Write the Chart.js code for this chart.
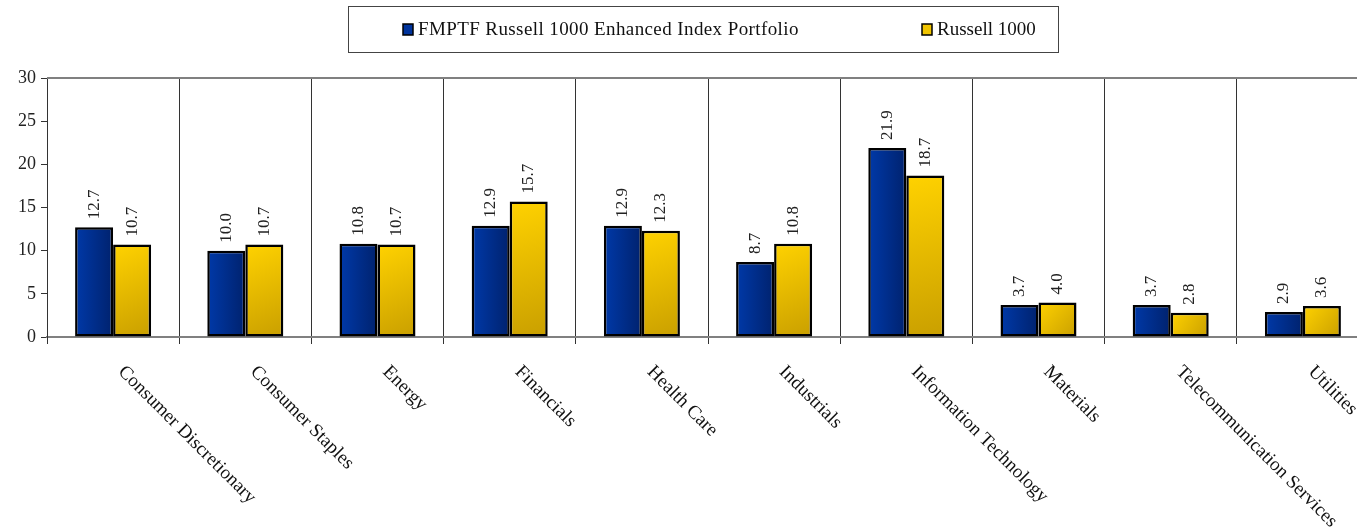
<!DOCTYPE html>
<html>
<head>
<meta charset="utf-8">
<script src="https://cdn.jsdelivr.net/npm/chart.js@4/dist/chart.umd.min.js"></script>
<style>
  html, body { margin: 0; padding: 0; background: #fff; overflow: hidden; width: 1357px; height: 527px; }
  canvas { display: block; }
</style>
</head>
<body>
<canvas id="c" width="1380" height="527"></canvas>
<script>
const categories = ["Consumer Discretionary", "Consumer Staples", "Energy", "Financials", "Health Care", "Industrials", "Information Technology", "Materials", "Telecommunication Services", "Utilities"];
const seriesNames = ["FMPTF Russell 1000 Enhanced Index Portfolio", "Russell 1000"];
const portfolioValues = [12.7, 10.0, 10.8, 12.9, 12.9, 8.7, 21.9, 3.7, 3.7, 2.9];
const russellValues = [10.7, 10.7, 10.7, 15.7, 12.3, 10.8, 18.7, 4.0, 2.8, 3.6];
const yTicks = [0, 5, 10, 15, 20, 25, 30];

const SERIF = '"Liberation Serif", "Times New Roman", serif';
const CAT_PCT = 0.575;

function barGradient(ctx, dsIndex, stops, diagonal) {
  const chart = ctx.chart;
  if (!chart.chartArea || !chart.scales.x || !chart.scales.y || ctx.type !== 'data') return stops[0];
  const xs = chart.scales.x, ys = chart.scales.y;
  const cx = xs.getPixelForValue(ctx.dataIndex);
  const catW = xs.width / categories.length;
  const bw = catW * CAT_PCT / 2;
  const left = dsIndex === 0 ? cx - bw : cx;
  const right = left + bw;
  const v = ctx.raw;
  const top = ys.getPixelForValue(v);
  const bottom = ys.getPixelForValue(0);
  const g = chart.ctx.createLinearGradient(left, top, right, diagonal ? bottom : top);
  g.addColorStop(0, stops[0]);
  g.addColorStop(1, stops[1]);
  return g;
}

const framePlugin = {
  id: 'frame',
  afterDraw(chart) {
    const { ctx, chartArea } = chart;
    ctx.save();
    ctx.strokeStyle = '#808080';
    ctx.lineWidth = 2;
    ctx.beginPath();
    ctx.moveTo(chartArea.left, chartArea.top);
    ctx.lineTo(chartArea.right, chartArea.top);
    ctx.stroke();
    ctx.restore();
  }
};

const valueLabelPlugin = {
  id: 'valueLabels',
  afterDatasetsDraw(chart) {
    const ctx = chart.ctx;
    ctx.save();
    ctx.font = '17px ' + SERIF;
    ctx.fillStyle = '#222';
    ctx.textAlign = 'left';
    ctx.textBaseline = 'middle';
    chart.data.datasets.forEach((ds, di) => {
      const meta = chart.getDatasetMeta(di);
      meta.data.forEach((el, i) => {
        ctx.save();
        ctx.translate(el.x, el.y - 8);
        ctx.rotate(-Math.PI / 2);
        ctx.fillText(ds.data[i].toFixed(1), 0, 0);
        ctx.restore();
      });
    });
    ctx.restore();
  }
};

const categoryLabelPlugin = {
  id: 'catLabels',
  afterDraw(chart) {
    const ctx = chart.ctx;
    const xs = chart.scales.x;
    ctx.save();
    ctx.font = '19px ' + SERIF;
    ctx.fillStyle = '#111';
    ctx.textAlign = 'left';
    ctx.textBaseline = 'middle';
    categories.forEach((lab, i) => {
      const x = xs.getPixelForValue(i) + 8;
      const y = chart.chartArea.bottom + 32;
      ctx.save();
      ctx.translate(x, y);
      ctx.rotate(Math.PI / 4);
      ctx.fillText(lab, 0, 0);
      ctx.restore();
    });
    ctx.restore();
  }
};

const legendPlugin = {
  id: 'boxLegend',
  afterDraw(chart) {
    const ctx = chart.ctx;
    ctx.save();
    ctx.strokeStyle = '#444';
    ctx.lineWidth = 1;
    ctx.strokeRect(348.5, 6.5, 710, 46);
    ctx.font = '19px ' + SERIF;
    ctx.textAlign = 'left';
    ctx.textBaseline = 'middle';
    const items = [
      { x: 403, color: '#00339c', label: seriesNames[0], spacing: '0.4px' },
      { x: 922, color: '#f0c400', label: seriesNames[1], spacing: '0px' }
    ];
    items.forEach(it => {
      ctx.fillStyle = it.color;
      ctx.fillRect(it.x, 24, 10, 11);
      ctx.strokeStyle = '#000';
      ctx.lineWidth = 1.5;
      ctx.strokeRect(it.x, 24, 10, 11);
      ctx.fillStyle = '#111';
      if ('letterSpacing' in ctx) ctx.letterSpacing = it.spacing;
      ctx.fillText(it.label, it.x + 15, 30);
    });
    ctx.restore();
  }
};

new Chart(document.getElementById('c'), {
  type: 'bar',
  data: {
    labels: categories,
    datasets: [
      {
        label: seriesNames[0],
        data: portfolioValues,
        backgroundColor: (ctx) => barGradient(ctx, 0, ['#0039a8', '#00226e'], false),
        borderColor: '#000',
        borderWidth: 2.5,
        borderSkipped: false,
        barPercentage: 1.0,
        categoryPercentage: CAT_PCT
      },
      {
        label: seriesNames[1],
        data: russellValues,
        backgroundColor: (ctx) => barGradient(ctx, 1, ['#ffd200', '#c99f00'], true),
        borderColor: '#000',
        borderWidth: 2.5,
        borderSkipped: false,
        barPercentage: 1.0,
        categoryPercentage: CAT_PCT
      }
    ]
  },
  options: {
    responsive: false,
    animation: false,
    devicePixelRatio: 1,
    layout: { padding: { top: 78, right: 11, left: 0, bottom: 0 } },
    plugins: { legend: { display: false }, tooltip: { enabled: false } },
    scales: {
      x: {
        grid: { display: true, offset: true, color: '#333', lineWidth: 1, drawTicks: true, tickLength: 7 },
        border: { display: true, color: '#808080', width: 2 },
        ticks: { display: false },
        afterFit(scale) { scale.height = 190; }
      },
      y: {
        min: 0,
        max: 30,
        afterBuildTicks(scale) { scale.ticks = yTicks.map(v => ({ value: v })); },
        ticks: { font: { family: SERIF, size: 18 }, color: '#222', padding: 5 },
        grid: { drawOnChartArea: false, drawTicks: true, tickLength: 6, color: '#333' },
        border: { display: true, color: '#333', width: 1 },
        afterFit(scale) { scale.width = 47; }
      }
    }
  },
  plugins: [framePlugin, valueLabelPlugin, categoryLabelPlugin, legendPlugin]
});
</script>
</body>
</html>
